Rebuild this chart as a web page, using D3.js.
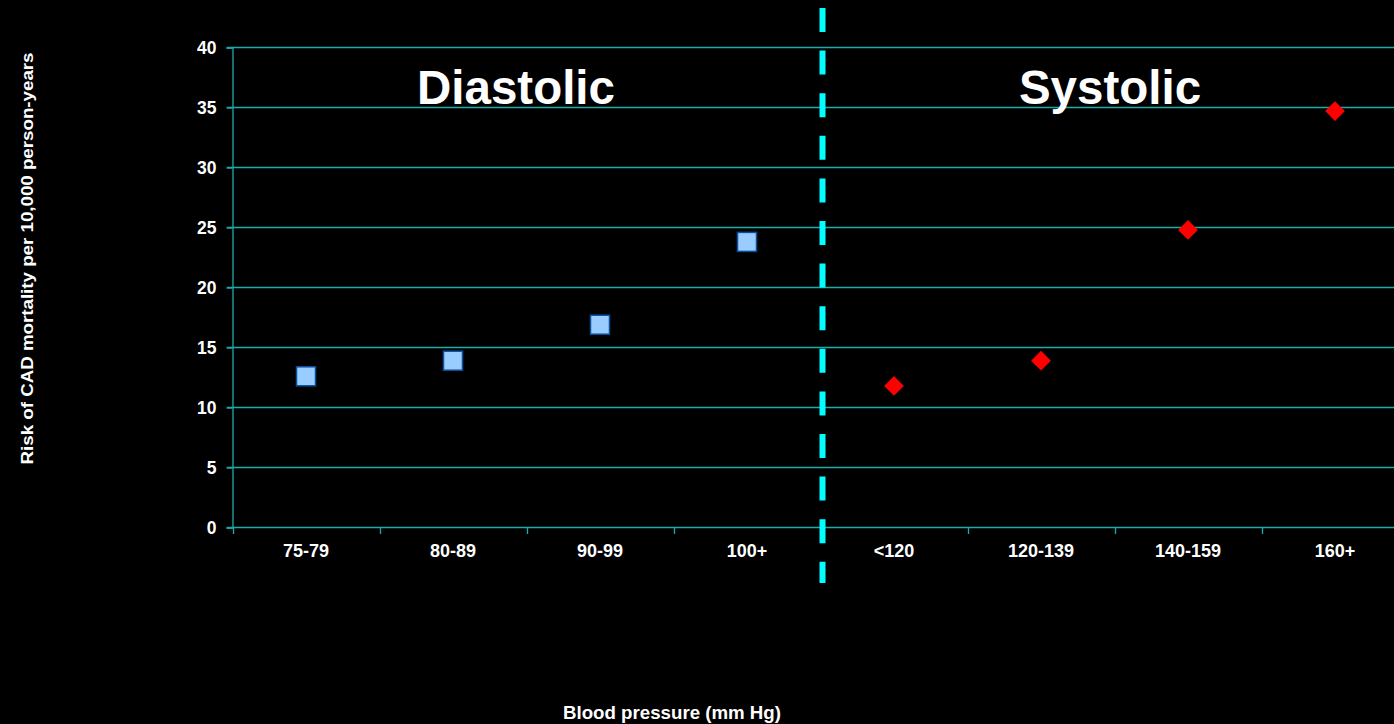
<!DOCTYPE html>
<html><head><meta charset="utf-8">
<script src="https://cdn.jsdelivr.net/npm/d3@7"></script>
<style>html,body{margin:0;padding:0;background:#000;overflow:hidden}</style>
</head><body>
<svg id="c" width="1394" height="724"></svg>
<script>
const categories = ["75-79","80-89","90-99","100+","<120","120-139","140-159","160+"];
const diastolicCats = ["75-79","80-89","90-99","100+"];
const diastolicVals = [12.6, 13.9, 16.9, 23.8];
const systolicCats = ["<120","120-139","140-159","160+"];
const systolicVals = [11.8, 13.9, 24.8, 34.7];
const yTicks = [0,5,10,15,20,25,30,35,40];

const svg = d3.select("#c");
const grid = "#1aabab";
const font = "Arial, 'Liberation Sans', sans-serif";
svg.append("rect").attr("width",1394).attr("height",724).attr("fill","#000");

const x = d3.scaleBand().domain(categories).range([232.5, 1408.5]).padding(0);
const y = d3.scaleLinear().domain([0,40]).range([527.5, 47.5]);

// gridlines
svg.append("g").selectAll("line").data(yTicks).join("line")
  .attr("x1",227).attr("x2",1394)
  .attr("y1",d=>y(d)).attr("y2",d=>y(d))
  .attr("stroke",grid).attr("stroke-width",1.3);

// y axis
const ya = svg.append("g").attr("transform","translate(232.5,0)")
  .call(d3.axisLeft(y).tickValues(yTicks).tickSize(6).tickPadding(10));
ya.select(".domain").attr("stroke",grid).attr("stroke-width",1.3);
ya.selectAll(".tick line").attr("stroke",grid).attr("stroke-width",1.3);
ya.selectAll("text").attr("fill","#fff").attr("font-family",font).attr("font-weight","bold").attr("font-size",17.5);

// x axis
const xa = svg.append("g").attr("transform","translate(0,527.5)")
  .call(d3.axisBottom(x).tickSize(0).tickPadding(17));
xa.select(".domain").remove();
xa.selectAll("text").attr("fill","#fff").attr("font-family",font).attr("font-weight","bold").attr("font-size",18);
// band boundary ticks
svg.append("g").selectAll("line").data(categories).join("line")
  .attr("x1",d=>Math.round(x(d))+0.5).attr("x2",d=>Math.round(x(d))+0.5)
  .attr("y1",527).attr("y2",534).attr("stroke",grid).attr("stroke-width",1.3);

// dashed divider
svg.append("line").attr("x1",822.5).attr("x2",822.5).attr("y1",8).attr("y2",583)
  .attr("stroke","#00ffff").attr("stroke-width",6).attr("stroke-dasharray","24,18.6");

// diastolic squares
const s = 19;
svg.append("g").selectAll("rect").data(diastolicVals).join("rect")
  .attr("x",(d,i)=>x(diastolicCats[i])+x.bandwidth()/2-s/2)
  .attr("y",d=>y(d)-s/2).attr("width",s).attr("height",s)
  .attr("fill","#99ccff").attr("stroke","#0a4f9e").attr("stroke-width",1.5);

// systolic diamonds
const dsym = d3.symbol().type(d3.symbolDiamond2).size(250);
svg.append("g").selectAll("path").data(systolicVals).join("path")
  .attr("transform",(d,i)=>`translate(${x(systolicCats[i])+x.bandwidth()/2},${y(d)})`)
  .attr("d",dsym).attr("fill","#ff0000");

// section titles
svg.append("text").attr("x",516).attr("y",104).attr("text-anchor","middle")
  .attr("fill","#fff").attr("font-family",font).attr("font-weight","bold").attr("font-size",47.5).text("Diastolic");
svg.append("text").attr("x",1110).attr("y",104).attr("text-anchor","middle")
  .attr("fill","#fff").attr("font-family",font).attr("font-weight","bold").attr("font-size",47.5).text("Systolic");

// axis titles
svg.append("text").attr("transform","translate(33,258.5) rotate(-90)").attr("text-anchor","middle")
  .attr("fill","#fff").attr("font-family",font).attr("font-weight","bold").attr("font-size",16)
  .attr("textLength",412).attr("lengthAdjust","spacingAndGlyphs")
  .text("Risk of CAD mortality per 10,000 person-years");
svg.append("text").attr("x",672).attr("y",719).attr("text-anchor","middle")
  .attr("fill","#fff").attr("font-family",font).attr("font-weight","bold").attr("font-size",18)
  .attr("textLength",218).attr("lengthAdjust","spacingAndGlyphs")
  .text("Blood pressure (mm Hg)");
</script>
</body></html>
